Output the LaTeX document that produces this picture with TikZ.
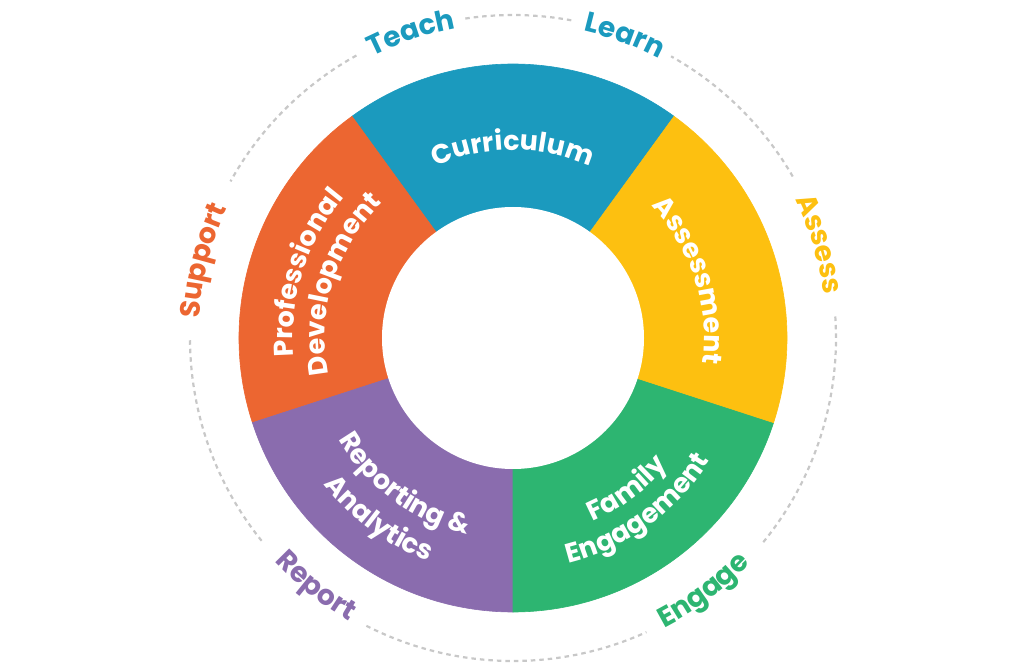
\documentclass[tikz,border=0pt]{standalone}
\usepackage{fontspec}
\setmainfont{Poppins}
\usetikzlibrary{decorations.text}
\definecolor{cblue}{RGB}{27,154,190}
\definecolor{corange}{RGB}{236,102,49}
\definecolor{cyellow}{RGB}{253,192,16}
\definecolor{cgreen}{RGB}{45,181,113}
\definecolor{cpurple}{RGB}{138,108,174}
\definecolor{cdash}{RGB}{200,200,200}
% clockwise text, letter tops outward: colour, size, centre angle, radius, text
\newcommand\cwtext[5]{%
  \path[decorate,decoration={text along path,text align=center,
    text={|\fontsize{#2}{#2}\selectfont\bfseries\color{#1}|#5}}]
    (#3+50:#4) arc[start angle=#3+50, end angle=#3-50, radius=#4];}
% counter-clockwise text, letter tops inward
\newcommand\ccwtext[5]{%
  \path[decorate,decoration={text along path,text align=center,
    text={|\fontsize{#2}{#2}\selectfont\bfseries\color{#1}|#5}}]
    (#3-50:#4) arc[start angle=#3-50, end angle=#3+50, radius=#4];}
\newcommand\ringsector[3]{%
  \fill[#1,draw=#1,line width=0.6pt] (0,0) -- (#2:274pt)
    arc[start angle=#2, end angle=#3, radius=274pt] -- cycle;}
\newcommand\dasharc[2]{%
  \draw[dashring] (#1:323pt) arc[start angle=#1, end angle=#2, radius=323pt];}
\begin{document}
\begin{tikzpicture}[x=1pt,y=1pt,
  dashring/.style={draw=cdash,line width=2.2pt,dash pattern=on 4.5pt off 4pt}]
\useasboundingbox (-513pt,-331pt) rectangle (511pt,338pt);
% ring sectors
\ringsector{cblue}{54}{126}
\ringsector{corange}{126}{198}
\ringsector{cpurple}{198}{270}
\ringsector{cgreen}{270}{342}
\ringsector{cyellow}{-18}{54}
\fill[white] (0,0) circle[radius=131pt];
% dashed outer circle with gaps for labels
\dasharc{30}{60.7}
\dasharc{79.6}{98.6}
\dasharc{119}{151}
\dasharc{180.4}{219.5}
\dasharc{243}{294.4}
\dasharc{320.8}{364.1}
% sector labels
\cwtext{white}{27}{90}{188pt}{Curriculum}
\cwtext{white}{27}{18}{191pt}{Assessment}
\cwtext{white}{27}{162.5}{220pt}{Professional}
\cwtext{white}{27}{162.5}{188pt}{Development}
\ccwtext{white}{27}{233.5}{202pt}{Reporting {\&}}
\ccwtext{white}{27}{233.5}{239pt}{Analytics}
\ccwtext{white}{27}{307}{200pt}{Family}
\ccwtext{white}{27}{306}{232pt}{Engagement}
% outer labels
\cwtext{cblue}{28}{108.5}{315pt}{Teach}
\cwtext{cblue}{28}{69.7}{315pt}{Learn}
\cwtext{cyellow}{28}{17}{314pt}{Assess}
\cwtext{corange}{28}{166}{314pt}{Support}
\ccwtext{cpurple}{28}{231.5}{327pt}{Report}
\ccwtext{cgreen}{28}{307}{327pt}{Engage}
\end{tikzpicture}
\end{document}
